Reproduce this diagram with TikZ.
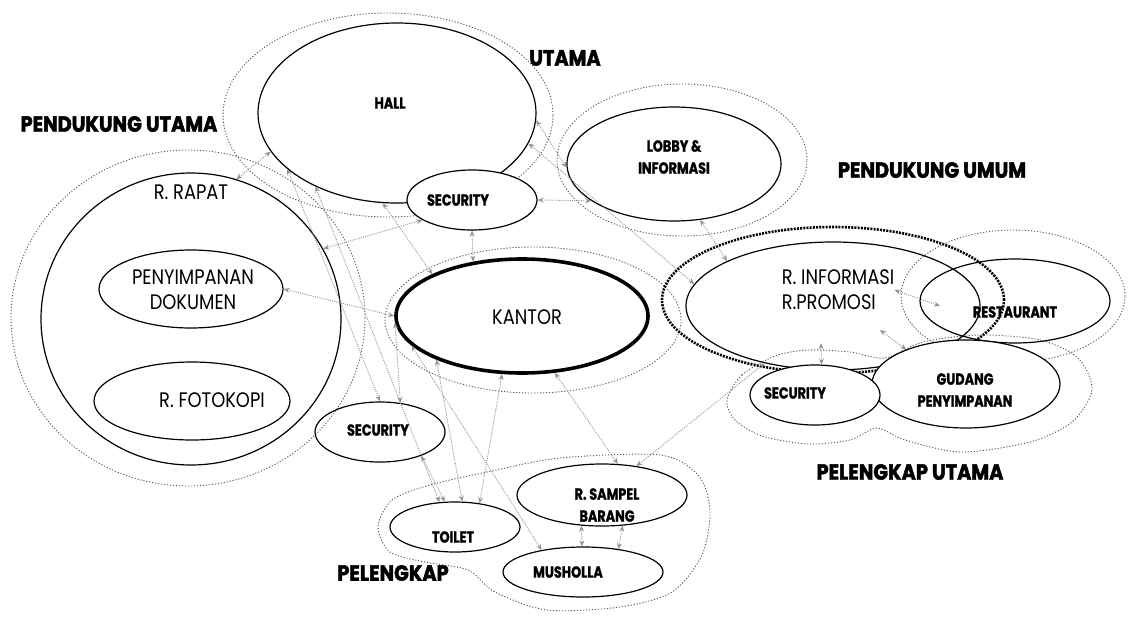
\documentclass[tikz,border=0pt]{standalone}
\usepackage{fontspec}
\setmainfont{Poppins}
\newfontfamily\roomfont[FakeStretch=0.85]{Poppins}
\newfontfamily\tagfont[FakeStretch=0.8, BoldFeatures={FakeBold=1.2}]{Poppins}
\newfontfamily\zonefont[FakeStretch=0.88, BoldFeatures={FakeBold=2}]{Poppins}
\usepackage{tikz}
\usetikzlibrary{arrows.meta, positioning, shapes.geometric}

\begin{document}
\begin{tikzpicture}[
  x=1pt, y=-1pt,
  room/.style={ellipse, draw, line width=1.2pt, inner sep=0pt},
  zoneline/.style={draw=gray!70!black, line width=0.9pt, dash pattern=on 1.2pt off 1.8pt},
  zone/.style={zoneline, ellipse, inner sep=0pt},
  roomtxt/.style={font=\roomfont\fontsize{21}{25}\selectfont, align=center, inner sep=0pt},
  tagtxt/.style={font=\tagfont\bfseries\fontsize{16}{22}\selectfont, align=center, inner sep=0pt},
  zonetxt/.style={font=\zonefont\bfseries\fontsize{22}{24}\selectfont, inner sep=0pt},
  link/.style={{Stealth[length=6pt, width=5pt]}-{Stealth[length=6pt, width=5pt]},
               gray!85, line width=0.9pt, dash pattern=on 1pt off 1.2pt}
]
  \useasboundingbox (0,0) rectangle (1143,616);

  \node[zone, minimum width=330pt, minimum height=204pt] (zutama) at (388,115) {};
  \node[zone, minimum width=250pt, minimum height=152pt] (zlobby) at (682,160) {};
  \node[zone, minimum width=354pt, minimum height=336pt] (zpendutama) at (188,318) {};
  \node[zone, minimum width=296pt, minimum height=146pt] (zkantor) at (533,320) {};
  \node[zone, minimum width=224pt, minimum height=132pt] (zresto) at (1013,296) {};
  \node[zone, draw=black, line width=2.6pt, dash pattern=on 2pt off 1.2pt,
        minimum width=342pt, minimum height=146pt] (zumum) at (833,300) {};
  \draw[zoneline] plot[smooth cycle] coordinates {(727,400) (742,375) (775,356) (808,350)
    (850,352) (885,358) (923,342) (980,335) (1040,340) (1078,358) (1092,390) (1072,422)
    (1030,442) (961,452) (905,440) (877,428) (850,440) (808,444) (762,436) (735,420)};
  \draw[zoneline] plot[smooth cycle] coordinates {(378,527) (392,500) (430,485) (487,472)
    (560,458) (660,455) (698,475) (710,510) (702,555) (672,592) (620,607) (547,610)
    (495,592) (468,570) (425,562) (390,552)};

  \node[room, minimum width=278pt, minimum height=180pt] (hall) at (397,113) {};
  \node[room, minimum width=214pt, minimum height=114pt] (lobby) at (674,164) {};
  \node[room, minimum width=300pt, minimum height=292pt] (rapat) at (191,319) {};
  \node[room, minimum width=184pt, minimum height=78pt] (dok) at (191,289) {};
  \node[room, minimum width=196pt, minimum height=78pt] (foto) at (192,401) {};
  \node[room, line width=3.6pt, minimum width=252pt, minimum height=114pt] (kantor) at (522,316) {};
  \node[room, minimum width=294pt, minimum height=128pt] (rinfo) at (833,306) {};
  \node[room, minimum width=190pt, minimum height=84pt] (resto) at (1015,301) {};
  \node[room, fill=white, minimum width=188pt, minimum height=88pt] (gudang) at (966,384) {};
  \node[room, fill=white, minimum width=130pt, minimum height=60pt] (sec1) at (472,200) {};
  \node[room, fill=white, minimum width=130pt, minimum height=60pt] (sec3) at (815,395) {};
  \node[room, minimum width=130pt, minimum height=60pt] (sec2) at (380,432) {};
  \node[room, minimum width=130pt, minimum height=50pt] (toilet) at (455,527) {};
  \node[room, minimum width=170pt, minimum height=62pt] (sampel) at (602,495) {};
  \node[room, minimum width=160pt, minimum height=50pt] (mushola) at (583,572) {};

  \coordinate (rinfoin) at (821,343);
  \coordinate (rinfobr) at (880,330);
  \coordinate (restoin) at (940,306);

  \draw[link] (rapat.72) -- (hall.197);
  \draw[link] (hall.-3) -- (lobby.182);
  \draw[link] (hall.-13) -- (rinfo.171);
  \draw[link] (sec1.0) -- (lobby.204);
  \draw[link] (lobby.-65) -- (rinfo.157);
  \draw[link] (sec1.-90) -- (kantor.132);
  \draw[link] (sec1.202) -- (rapat.28);
  \draw[link] (dok.0) -- (kantor.180);
  \draw[link] (hall.261) -- (kantor.155);
  \draw[link] (hall.207) -- (sec2.90);
  \draw[link] (hall.222) -- (toilet.122);
  \draw[link] (kantor.183) -- (sec2.55);
  \draw[link] (sec2.-30) -- (toilet.112);
  \draw[link] (kantor.207) -- (toilet.74);
  \draw[link] (kantor.251) -- (toilet.44);
  \draw[link] (kantor.195) -- (mushola.152);
  \draw[link] (kantor.-60) -- (sampel.63);
  \draw[link] (sampel.236) -- (mushola.92);
  \draw[link] (sampel.-56) -- (mushola.33);
  \draw[link] (sampel.40) -- (rinfo.220);
  \draw[link] (sec3.78) -- (rinfoin);
  \draw[link] (gudang.150) -- (rinfobr);

  \node[zonetxt] (lutama) at (565,58) {UTAMA};
  \node[zonetxt] (lpendutama) at (119,124) {PENDUKUNG UTAMA};
  \node[zonetxt] (lpendumum) at (932,170) {PENDUKUNG UMUM};
  \node[zonetxt] (lpelutama) at (910,472) {PELENGKAP UTAMA};
  \node[zonetxt] (lpelengkap) at (393,573) {PELENGKAP};

  \node[tagtxt] (hallt) at (390,103) {HALL};
  \node[tagtxt] (sec1t) at (458,200) {SECURITY};
  \node[tagtxt] (lobbyt) at (674,157) {LOBBY \&\\INFORMASI};
  \node[roomtxt] (rapatt) at (191,192) {R. RAPAT};
  \node[roomtxt] (dokt) at (193,290) {PENYIMPANAN\\DOKUMEN};
  \node[roomtxt] (fotot) at (212,400) {R. FOTOKOPI};
  \node[roomtxt] (kantort) at (527,317) {KANTOR};
  \node[roomtxt, align=left] (rinfot) at (838,290) {R. INFORMASI\\R.PROMOSI};
  \node[tagtxt] (restot) at (1015,312) {RESTAURANT};
  \node[tagtxt] (sec3t) at (795,393) {SECURITY};
  \node[tagtxt] (gudangt) at (965,390) {GUDANG\\PENYIMPANAN};
  \node[tagtxt] (sec2t) at (378,430) {SECURITY};
  \node[tagtxt] (toilett) at (453,537) {TOILET};
  \node[tagtxt] (sampelt) at (607,505) {R. SAMPEL\\BARANG};
  \node[tagtxt] (musholat) at (568,572) {MUSHOLLA};

  \draw[link] (rinfot.east) -- (restoin);
\end{tikzpicture}
\end{document}
